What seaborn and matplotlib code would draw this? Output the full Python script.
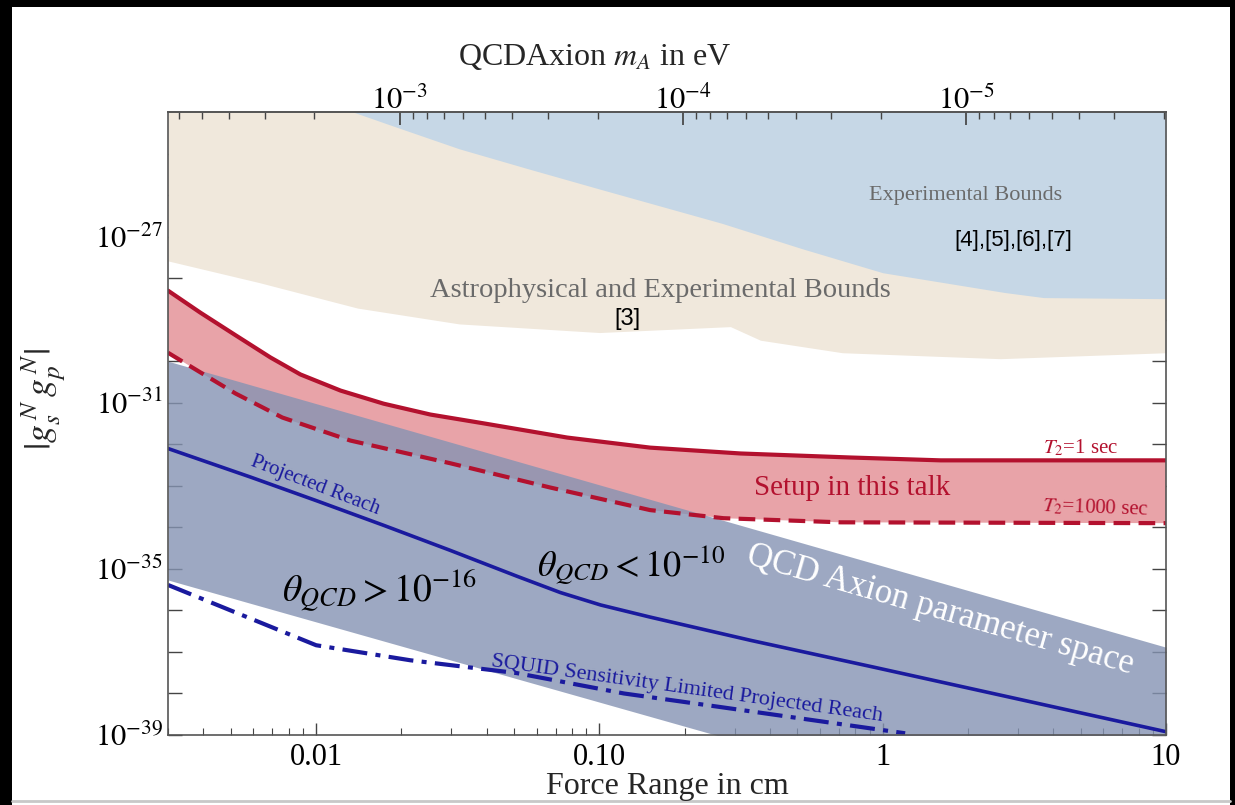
import matplotlib
matplotlib.use("Agg")
import matplotlib.pyplot as plt
import matplotlib.ticker as mticker
from matplotlib.patches import Rectangle
from matplotlib.lines import Line2D
import numpy as np
import pandas as pd
import seaborn as sns

# ------------------------------------------------------------------
# data (force range in cm, coupling |gs gp|)
# ------------------------------------------------------------------
astro_x = [0.003, 0.0063, 0.014, 0.032, 0.10, 0.29, 0.37, 0.72, 2.6, 10]
astro_lo = [2.6e-28, 7.8e-29, 1.9e-29, 7.9e-30, 4.9e-30, 6.8e-30, 3.2e-30, 1.6e-30, 1.15e-30, 1.6e-30]

exp_x = [0.0135, 0.0187, 0.032, 0.056, 0.10, 0.27, 0.52, 1.0, 2.7, 3.7, 10]
exp_lo = [1.0e-24, 4.6e-25, 1.3e-25, 4.3e-26, 1.4e-26, 2.1e-27, 5.1e-28, 1.35e-28, 4.5e-29, 3.4e-29, 3.2e-29]

t2_1s_x = [0.003, 0.0039, 0.0052, 0.0069, 0.0088, 0.0122, 0.0173, 0.0253, 0.0389,
           0.077, 0.151, 0.315, 0.77, 1.6, 10]
t2_1s_y = [5.0e-29, 1.48e-29, 4.2e-30, 1.23e-30, 4.8e-31, 1.96e-31, 9.5e-32, 5.2e-32, 3.2e-32,
           1.45e-32, 8.3e-33, 6.0e-33, 4.8e-33, 4.1e-33, 4.1e-33]

t2_1000s_x = [0.003, 0.0039, 0.0052, 0.0076, 0.0132, 0.0297, 0.067, 0.151, 0.274, 0.71, 10]
t2_1000s_y = [1.6e-30, 5.4e-31, 1.66e-31, 4.4e-32, 1.23e-32, 3.5e-33, 9.1e-34, 2.6e-34, 1.66e-34,
              1.32e-34, 1.26e-34]

qcd_x = [0.003, 10]
qcd_hi = [1.0e-30, 1.3e-37]
qcd_lo = [5.4e-36, 8.5e-43]

reach_x = [0.003, 0.0059, 0.0101, 0.0173, 0.0297, 0.0513, 0.0727, 0.101, 0.151, 0.342, 0.93, 10]
reach_y = [7.9e-33, 1.6e-33, 4.3e-34, 1.12e-34, 2.8e-35, 6.6e-36, 2.7e-36, 1.35e-36, 6.9e-37,
           1.9e-37, 4.3e-38, 1.2e-39]

squid_x = [0.003, 0.010, 0.0215, 0.051, 0.122, 0.268, 1.2]
squid_y = [4.1e-36, 1.45e-37, 6.3e-38, 3.1e-38, 1.0e-38, 4.7e-39, 1.1e-39]

x_ticks = [0.01, 0.1, 1, 10]
x_ticklabels = ["0.01", "0.10", "1", "10"]
y_tick_exps = list(range(-39, -23))
y_label_exps = [-39, -35, -31, -27]
mass_ticks = [1e-3, 1e-4, 1e-5]
mass_ticklabels = [r"$10^{-3}$", r"$10^{-4}$", r"$10^{-5}$"]
HBARC = 1.973e-5  # eV cm

# colours
beige = "#f0e8dc"
lightblue = "#c6d7e6"
slate = "#8593b3"
pink = "#e8a3a8"
crimson = "#b3112e"
navy = "#1a1a9e"
graytxt = "#6a6a6a"

sns.set_theme(style="ticks")
plt.rcParams["font.family"] = ["Liberation Serif", "DejaVu Serif"]
plt.rcParams["mathtext.fontset"] = "stix"

fig = plt.figure(figsize=(12.35, 8.05), dpi=100)
fig.patch.set_facecolor("black")
fig.patches.append(Rectangle((12 / 1235, 0), (1230 - 12) / 1235, (805 - 7) / 805,
                             transform=fig.transFigure, facecolor="white", edgecolor="none", zorder=-10))
fig.lines.append(Line2D([12 / 1235, 1230 / 1235], [4 / 805, 4 / 805], transform=fig.transFigure,
                        color="#c8c8c8", lw=2, zorder=-9))

ax = fig.add_axes([168 / 1235, 1 - 735 / 805, (1166 - 168) / 1235, (735 - 112) / 805])
ax.set_xscale("log")
ax.set_yscale("log")
ax.set_xlim(0.003, 10)
ax.set_ylim(1e-39, 1e-24)
ax.set_facecolor("white")

# bound regions
ax.fill_between(astro_x, astro_lo, 1e-23, color=beige, lw=0, zorder=1)
ax.fill_between(exp_x, exp_lo, 1e-23, color=lightblue, lw=0, zorder=1.1)

# setup band
ax.fill(np.r_[t2_1s_x, t2_1000s_x[::-1]], np.r_[t2_1s_y, t2_1000s_y[::-1]],
        color=pink, lw=0, zorder=1.2)

# QCD axion band
ax.fill_between(qcd_x, qcd_lo, qcd_hi, color=slate, alpha=0.8, lw=0, zorder=1.3)

lines = pd.DataFrame({"x": t2_1s_x, "y": t2_1s_y})
sns.lineplot(data=lines, x="x", y="y", ax=ax, color=crimson, lw=3, sort=False, zorder=2)
sns.lineplot(x=t2_1000s_x, y=t2_1000s_y, ax=ax, color=crimson, lw=3, sort=False, zorder=2)
ax.lines[-1].set_dashes([4, 2])
sns.lineplot(x=reach_x, y=reach_y, ax=ax, color=navy, lw=2.6, sort=False, zorder=2)
sns.lineplot(x=squid_x, y=squid_y, ax=ax, color=navy, lw=3, sort=False, zorder=2)
ax.lines[-1].set_dashes([6, 2, 1.2, 2])

# annotations
ax.text(1.96, 9.5e-27, "Experimental Bounds", color=graytxt, fontsize=16, ha="center", va="center", zorder=6)
ax.text(2.88, 8e-28, "[4],[5],[6],[7]", color="black", fontsize=16, family="Liberation Sans",
        ha="center", va="center", zorder=6)
ax.text(0.164, 5e-29, "Astrophysical and Experimental Bounds", color=graytxt, fontsize=20.5,
        ha="center", va="center", zorder=6)
ax.text(0.126, 1.05e-29, "[3]", color="black", fontsize=17, family="Liberation Sans",
        ha="center", va="center", zorder=6)
ax.text(5.0, 8.3e-33, r"$T_2$=1 sec", color=crimson, fontsize=15, ha="center", va="center", zorder=6)
ax.text(0.78, 9.1e-34, "Setup in this talk", color=crimson, fontsize=21, ha="center", va="center", zorder=6)
ax.text(5.66, 2.9e-34, r"$T_2$=1000 sec", color=crimson, fontsize=15, rotation=-2,
        ha="center", va="center", zorder=6)
ax.text(0.0099, 1.02e-33, "Projected Reach", color=navy, fontsize=15, rotation=-21,
        ha="center", va="center", zorder=6)
ax.text(0.0168, 3.0e-36, r"$\theta_{QCD}>10^{-16}$", color="black", fontsize=27,
        ha="center", va="center", zorder=6)
ax.text(0.129, 1.2e-35, r"$\theta_{QCD}<10^{-10}$", color="black", fontsize=26,
        ha="center", va="center", zorder=6)
ax.text(1.6, 1.0e-36, "QCD Axion parameter space", color="white", fontsize=25, rotation=-16,
        ha="center", va="center", zorder=6)
ax.text(0.203, 1.25e-38, "SQUID Sensitivity Limited Projected Reach", color=navy, fontsize=16,
        rotation=-8, ha="center", va="center", zorder=6)

# axes, ticks
ax.set_xticks(x_ticks)
ax.set_xticklabels(x_ticklabels)
ax.xaxis.set_minor_locator(mticker.LogLocator(base=10, subs=np.arange(2, 10)))
ax.xaxis.set_minor_formatter(mticker.NullFormatter())
ax.yaxis.set_major_locator(mticker.FixedLocator([10.0 ** e for e in y_tick_exps]))
ax.yaxis.set_minor_locator(mticker.NullLocator())
ax.yaxis.set_major_formatter(mticker.FuncFormatter(
    lambda v, p: r"$10^{%d}$" % round(np.log10(v)) if round(np.log10(v)) in y_label_exps else ""))
ax.tick_params(axis="both", which="both", direction="in", labelsize=22, colors="#444444",
               labelcolor="black", right=True, top=False)
ax.tick_params(axis="y", which="major", length=10, width=1)
ax.tick_params(axis="x", which="major", length=9, width=1, pad=6)
ax.tick_params(axis="x", which="minor", length=5, width=0.8)
for s in ax.spines.values():
    s.set_color("#555555")
    s.set_linewidth(1.2)
ax.set_xlabel("Force Range in cm", fontsize=23, labelpad=0)
ax.set_ylabel(r"$|g_s^{\,N}\, g_p^{\,N}|$", fontsize=26)
ax.yaxis.set_label_coords(-0.1, 0.54)

secax = ax.secondary_xaxis("top", functions=(lambda l: HBARC / l, lambda m: HBARC / m))
secax.set_zorder(10)
secax.set_xticks(mass_ticks)
secax.set_xticklabels(mass_ticklabels)
secax.tick_params(axis="x", which="both", direction="in", labelsize=22, colors="#444444",
                  labelcolor="black", pad=-3)
secax.tick_params(axis="x", which="major", length=9)
secax.tick_params(axis="x", which="minor", length=5)
secax.set_xlabel(r"QCDAxion $m_A$ in eV", fontsize=23)
secax.xaxis.set_label_coords(0.428, 1.075, transform=ax.transAxes)
secax.spines["top"].set_color("#555555")

fig.savefig("out.png", dpi=100, facecolor=fig.get_facecolor())
